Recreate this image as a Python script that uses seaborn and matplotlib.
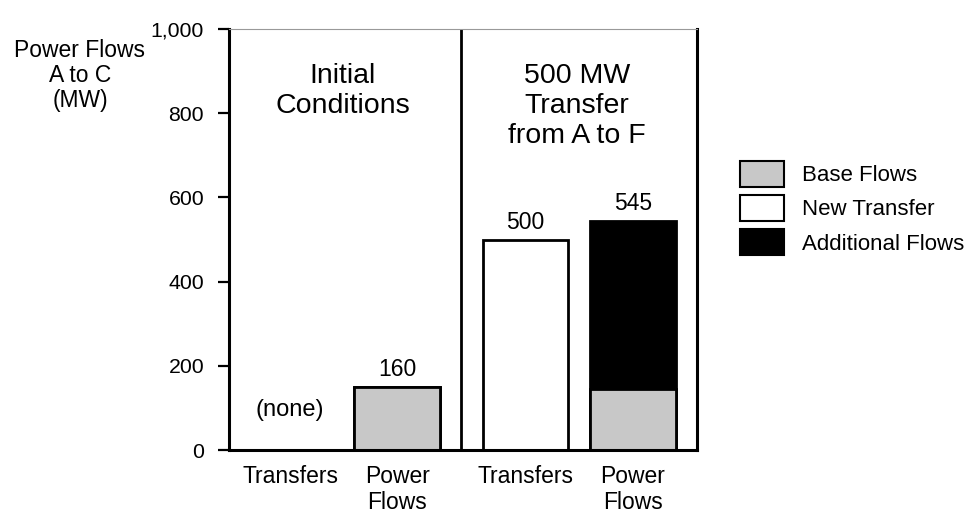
import pandas as pd
import numpy as np
import seaborn as sns
import matplotlib.pyplot as plt
from matplotlib.patches import Patch

# values
positions = [0, 1, 2.2, 3.2]
bar_names = ["Transfers", "Power\nFlows", "Transfers", "Power\nFlows"]
total_flow = [0, 150, 500, 545]
base_flow = [0, 150, 0, 145]
fill_kind = ["New Transfer", "Base Flows", "New Transfer", "Additional Flows"]
value_labels = ["", "160", "500", "545"]
panel_titles = ["Initial\nConditions", "500 MW\nTransfer\nfrom A to F"]
yticks = [0, 200, 400, 600, 800, 1000]
ytick_labels = ["0", "200", "400", "600", "800", "1,000"]

colors = {"Base Flows": "#c8c8c8", "New Transfer": "white", "Additional Flows": "black"}

sns.set_theme(style="ticks")
plt.rcParams['font.family'] = ['Liberation Sans', 'DejaVu Sans']
plt.rcParams.update({"text.color": "black", "xtick.color": "black",
                     "ytick.color": "black", "axes.labelcolor": "black"})

df = pd.DataFrame({"pos": positions, "total": total_flow, "base": base_flow, "kind": fill_kind})

fig = plt.figure(figsize=(9.76, 5.13), dpi=100)
ax = fig.add_axes([229/976, 1-450/513, (697-229)/976, (450-29)/513])

# full height bars first, then base flows drawn over the bottom part
sns.barplot(data=df, x="pos", y="total", hue="kind", palette=colors, native_scale=True,
            width=0.8, edgecolor="black", linewidth=2, legend=False, ax=ax)
sns.barplot(data=df, x="pos", y="base", color=colors["Base Flows"], native_scale=True,
            width=0.8, edgecolor="black", linewidth=2, ax=ax)

ax.set_xlim(-0.57, 3.8)
ax.set_ylim(0, 1000)
ax.axvline(1.6, color="black", lw=2)

for x, top, lab in zip(positions, total_flow, value_labels):
    if lab:
        ax.annotate(lab, (x, top), xytext=(0, 4), textcoords="offset points",
                    ha="center", va="bottom", fontsize=16.5)
ax.text(positions[0], 95, "(none)", ha="center", va="center", fontsize=17)

ax.text(0.49, 920, panel_titles[0], ha="center", va="top", fontsize=20.5, linespacing=1.2)
ax.text(2.68, 920, panel_titles[1], ha="center", va="top", fontsize=20.5, linespacing=1.2)

ax.set_xticks(positions, bar_names, fontsize=16.5, linespacing=1.15)
ax.tick_params(axis="x", length=0, pad=11)
ax.set_yticks(yticks, ytick_labels, fontsize=15.3)
ax.tick_params(axis="y", length=8, width=1.6, pad=10)
ax.set_xlabel("")
ax.set_ylabel("")

for s in ["left", "bottom", "right"]:
    ax.spines[s].set_linewidth(2.2)
    ax.spines[s].set_color("black")
ax.spines["top"].set_linewidth(0.8)
ax.spines["top"].set_color("#999999")

fig.text(80/976, 1-39/513, "Power Flows\nA to C\n(MW)", ha="center", va="top",
         fontsize=16.5, linespacing=1.1)

handles = [Patch(facecolor=colors[k], edgecolor="black", linewidth=1.5)
           for k in ["Base Flows", "New Transfer", "Additional Flows"]]
fig.legend(handles, ["Base Flows", "New Transfer", "Additional Flows"],
           loc="center left", bbox_to_anchor=(740/976, 1-208/513), frameon=False,
           fontsize=16, handlelength=2.0, handleheight=1.45, labelspacing=0.35,
           handletextpad=0.8, borderpad=0, borderaxespad=0)

fig.savefig("out.png", dpi=100)
